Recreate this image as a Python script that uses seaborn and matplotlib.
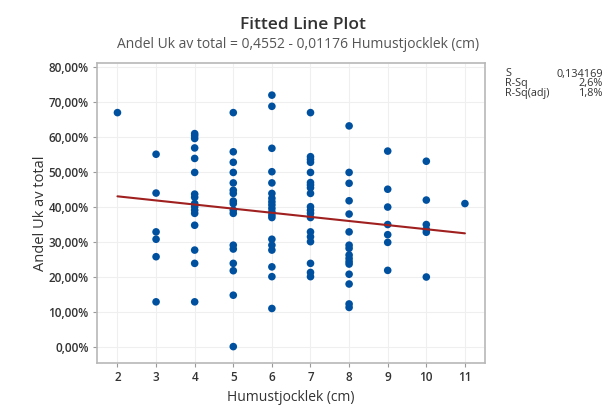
import numpy as np
import pandas as pd
import matplotlib
matplotlib.use("Agg")
import matplotlib.pyplot as plt
import seaborn as sns
from matplotlib.ticker import FuncFormatter

# ---- data (percent values) ----
x2 = [67.1]
x3 = [55.2, 44.1, 33.0, 30.9, 25.9, 13.0]
x4 = [61.1, 60.5, 59.7, 57.0, 54.0, 50.0, 43.8, 42.9, 41.1, 40.2, 39.2, 38.3,
      34.9, 27.8, 24.0, 13.0]
x5 = [67.1, 55.9, 52.9, 50.0, 47.0, 44.9, 44.0, 41.8, 41.1, 39.2, 38.3, 29.2,
      28.1, 24.0, 21.9, 14.9, 0.2]
x6 = [72.1, 68.9, 56.9, 50.2, 47.0, 44.0, 42.6, 41.6, 40.7, 39.7, 38.7, 37.8,
      37.1, 30.9, 29.2, 27.8, 23.0, 20.2, 11.1]
x7 = [67.1, 54.5, 53.7, 52.9, 50.0, 47.1, 46.4, 45.6, 44.0, 40.2, 39.2, 38.3,
      37.1, 33.0, 31.6, 30.2, 24.0, 21.4, 20.2]
x8 = [63.3, 50.0, 46.9, 41.9, 38.1, 33.0, 29.2, 28.3, 26.4, 25.4, 24.5, 23.8,
      20.9, 18.1, 12.4, 11.4]
x9 = [56.1, 45.2, 40.1, 35.1, 32.2, 30.0, 22.0]
x10 = [53.2, 42.1, 35.1, 33.7, 32.9, 20.1]
x11 = [41.1]

groups = {2: x2, 3: x3, 4: x4, 5: x5, 6: x6, 7: x7, 8: x8, 9: x9, 10: x10, 11: x11}

intercept = 0.4552
slope = -0.01176
stat_names = ["S", "R-Sq", "R-Sq(adj)"]
stat_values = ["0,134169", "2,6%", "1,8%"]
x_ticks = [2, 3, 4, 5, 6, 7, 8, 9, 10, 11]
y_ticks = [0.0, 0.1, 0.2, 0.3, 0.4, 0.5, 0.6, 0.7, 0.8]

rows = [(k, v / 100.0) for k, vals in groups.items() for v in vals]
df = pd.DataFrame(rows, columns=["Humustjocklek (cm)", "Andel Uk av total"])

xs = np.array([min(x_ticks), max(x_ticks)], dtype=float)
line_df = pd.DataFrame({"x": xs, "y": intercept + slope * xs})

# ---- style ----
sns.set_theme(style="white")
plt.rcParams["font.family"] = ["Open Sans", "DejaVu Sans"]

fig = plt.figure(figsize=(6.09, 4.05), dpi=100)
ax = fig.add_axes([97 / 609, 1 - 362.7 / 405, (485 - 97) / 609, (362.7 - 63.3) / 405])

ax.grid(True, color="#efefef", linewidth=0.8)
ax.set_axisbelow(True)

sns.scatterplot(data=df, x="Humustjocklek (cm)", y="Andel Uk av total", ax=ax,
                color="#0050a0", s=30, edgecolor="none", zorder=3)
sns.lineplot(data=line_df, x="x", y="y", ax=ax, color="#a02020",
             linewidth=1.5, zorder=4)

ax.set_xlim(1.47, 11.52)
ax.set_ylim(-0.044, 0.812)
ax.set_xticks(x_ticks)
ax.set_yticks(y_ticks)
ax.yaxis.set_major_formatter(FuncFormatter(lambda v, p: f"{v*100:.2f}".replace(".", ",") + "%"))

for s in ax.spines.values():
    s.set_color("#b8b8b8")
    s.set_linewidth(1.2)

ax.tick_params(axis="both", which="both", direction="out", length=3, width=0.8,
               color="#999999", labelsize=8.5, labelcolor="#333333", pad=3)
ax.tick_params(axis="both", bottom=True, left=True)
for lbl in ax.get_xticklabels() + ax.get_yticklabels():
    lbl.set_fontweight("semibold")

ax.set_xlabel("Humustjocklek (cm)", fontsize=10, color="#333333", labelpad=4)
ax.set_ylabel("Andel Uk av total", fontsize=10.5, color="#333333", labelpad=0)

fig.text(0.497, 1 - 25 / 405, "Fitted Line Plot", ha="center", va="center",
         fontsize=12.5, fontweight="semibold", color="#333333")
fig.text(0.49, 1 - 45 / 405, "Andel Uk av total = 0,4552 - 0,01176 Humustjocklek (cm)",
         ha="center", va="center", fontsize=10, color="#555555")

for i, (n, v) in enumerate(zip(stat_names, stat_values)):
    yy = 1 - (74 + i * 9.8) / 405
    fig.text(505 / 609, yy, n, ha="left", va="center", fontsize=7.8, color="#333333")
    fig.text(603 / 609, yy, v, ha="right", va="center", fontsize=7.8, color="#333333")

fig.savefig("out.png", dpi=100)
